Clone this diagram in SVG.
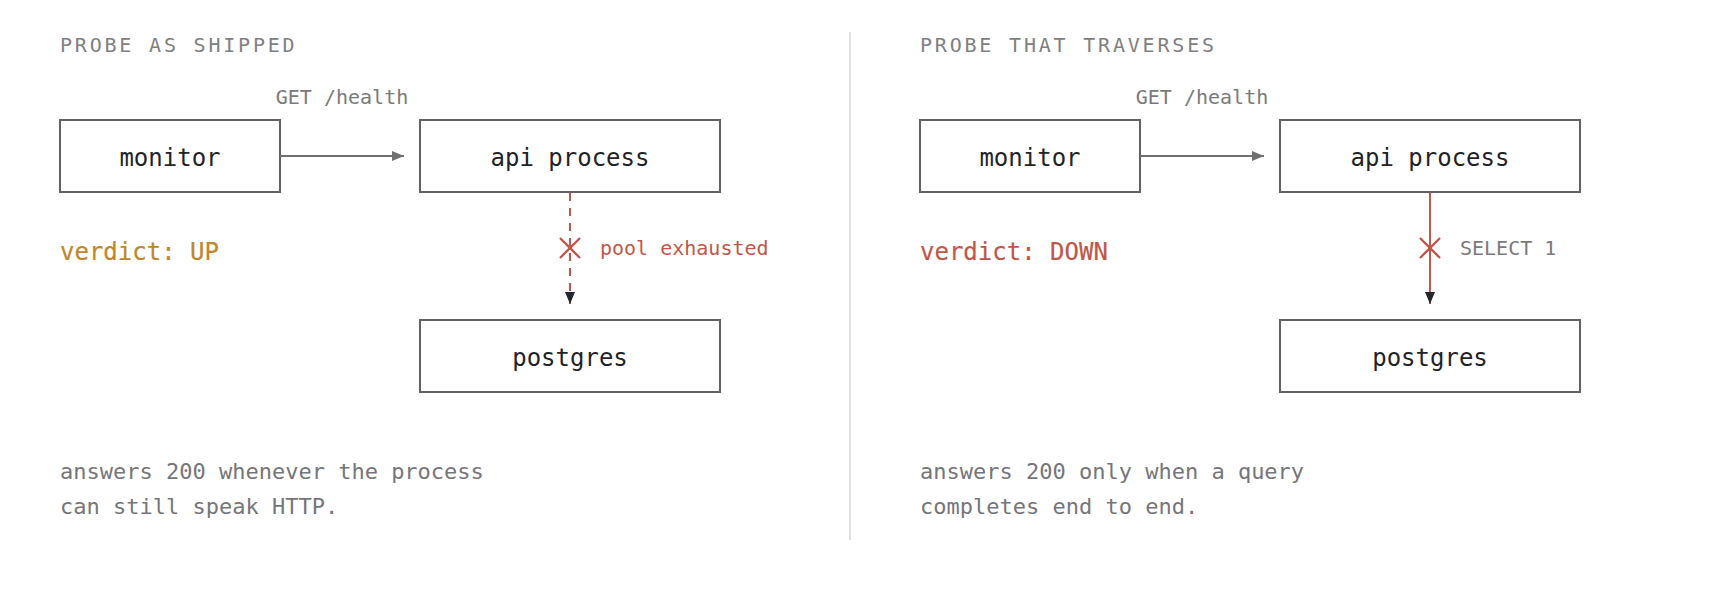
<svg xmlns="http://www.w3.org/2000/svg" width="1720" height="600" viewBox="0 0 1720 600">
  <style>
    text { font-family: "DejaVu Sans Mono", "Liberation Mono", monospace; }
    .title { font-size: 20px; fill: #808080; letter-spacing: 2.8px; }
    .box { fill: #ffffff; stroke: #606266; stroke-width: 2; }
    .node-label { font-size: 24px; fill: #1f2328; text-anchor: middle; }
    .edge-label { font-size: 20px; fill: #7a7a7a; }
    .edge-label-mid { font-size: 20px; fill: #7a7a7a; text-anchor: middle; }
    .bad-label { font-size: 20px; fill: #c0574a; }
    .verdict-up { font-size: 24px; fill: #c0862b; stroke: #c0862b; stroke-width: 0.2; }
    .verdict-down { font-size: 24px; fill: #c0574a; stroke: #c0574a; stroke-width: 0.2; }
    .caption { font-size: 22px; fill: #75757a; }
    .call { stroke: #707070; stroke-width: 2; fill: none; }
    .query-dashed { stroke: #c0574a; stroke-width: 2; fill: none; stroke-dasharray: 8 7; }
    .query-solid { stroke: #c0574a; stroke-width: 2; fill: none; }
    .cross { stroke: #c0574a; stroke-width: 2.4; fill: none; }
    .divider { stroke: #d6d6d6; stroke-width: 1.5; }
  </style>
  <defs>
    <marker id="arrow-gray" markerUnits="userSpaceOnUse" markerWidth="12" markerHeight="10" refX="12" refY="5" orient="auto">
      <path d="M0,0 L12,5 L0,10 z" fill="#707070"/>
    </marker>
    <marker id="arrow-dark" markerUnits="userSpaceOnUse" markerWidth="12" markerHeight="10" refX="12" refY="5" orient="auto">
      <path d="M0,0 L12,5 L0,10 z" fill="#24272b"/>
    </marker>
  </defs>

  <rect width="1720" height="600" fill="#ffffff"/>

  <line class="divider" x1="850" y1="32" x2="850" y2="540"/>

  <!-- Left panel -->
  <text class="title" x="60" y="52">PROBE AS SHIPPED</text>

  <g id="left-monitor">
    <rect class="box" x="60" y="120" width="220" height="72"/>
    <text class="node-label" x="170" y="166">monitor</text>
  </g>
  <g id="left-api">
    <rect class="box" x="420" y="120" width="300" height="72"/>
    <text class="node-label" x="570" y="166">api process</text>
  </g>
  <g id="left-postgres">
    <rect class="box" x="420" y="320" width="300" height="72"/>
    <text class="node-label" x="570" y="366">postgres</text>
  </g>

  <text class="verdict-up" x="60" y="260">verdict: UP</text>
  <text class="caption" x="60" y="479">answers 200 whenever the process</text>
  <text class="caption" x="60" y="514">can still speak HTTP.</text>

  <!-- Right panel -->
  <text class="title" x="920" y="52">PROBE THAT TRAVERSES</text>

  <g id="right-monitor">
    <rect class="box" x="920" y="120" width="220" height="72"/>
    <text class="node-label" x="1030" y="166">monitor</text>
  </g>
  <g id="right-api">
    <rect class="box" x="1280" y="120" width="300" height="72"/>
    <text class="node-label" x="1430" y="166">api process</text>
  </g>
  <g id="right-postgres">
    <rect class="box" x="1280" y="320" width="300" height="72"/>
    <text class="node-label" x="1430" y="366">postgres</text>
  </g>

  <text class="verdict-down" x="920" y="260">verdict: DOWN</text>
  <text class="caption" x="920" y="479">answers 200 only when a query</text>
  <text class="caption" x="920" y="514">completes end to end.</text>

  <!-- Connectors -->
  <g id="connectors">
    <line class="call" x1="280" y1="156" x2="404" y2="156" marker-end="url(#arrow-gray)"/>
    <text class="edge-label-mid" x="342" y="104">GET /health</text>
    <line class="query-dashed" x1="570" y1="193" x2="570" y2="304" marker-end="url(#arrow-dark)"/>
    <path class="cross" d="M560,238 L580,258 M580,238 L560,258"/>
    <text class="bad-label" x="600" y="255">pool exhausted</text>

    <line class="call" x1="1140" y1="156" x2="1264" y2="156" marker-end="url(#arrow-gray)"/>
    <text class="edge-label-mid" x="1202" y="104">GET /health</text>
    <line class="query-solid" x1="1430" y1="193" x2="1430" y2="304" marker-end="url(#arrow-dark)"/>
    <path class="cross" d="M1420,238 L1440,258 M1440,238 L1420,258"/>
    <text class="edge-label" x="1460" y="255">SELECT 1</text>
  </g>
</svg>
